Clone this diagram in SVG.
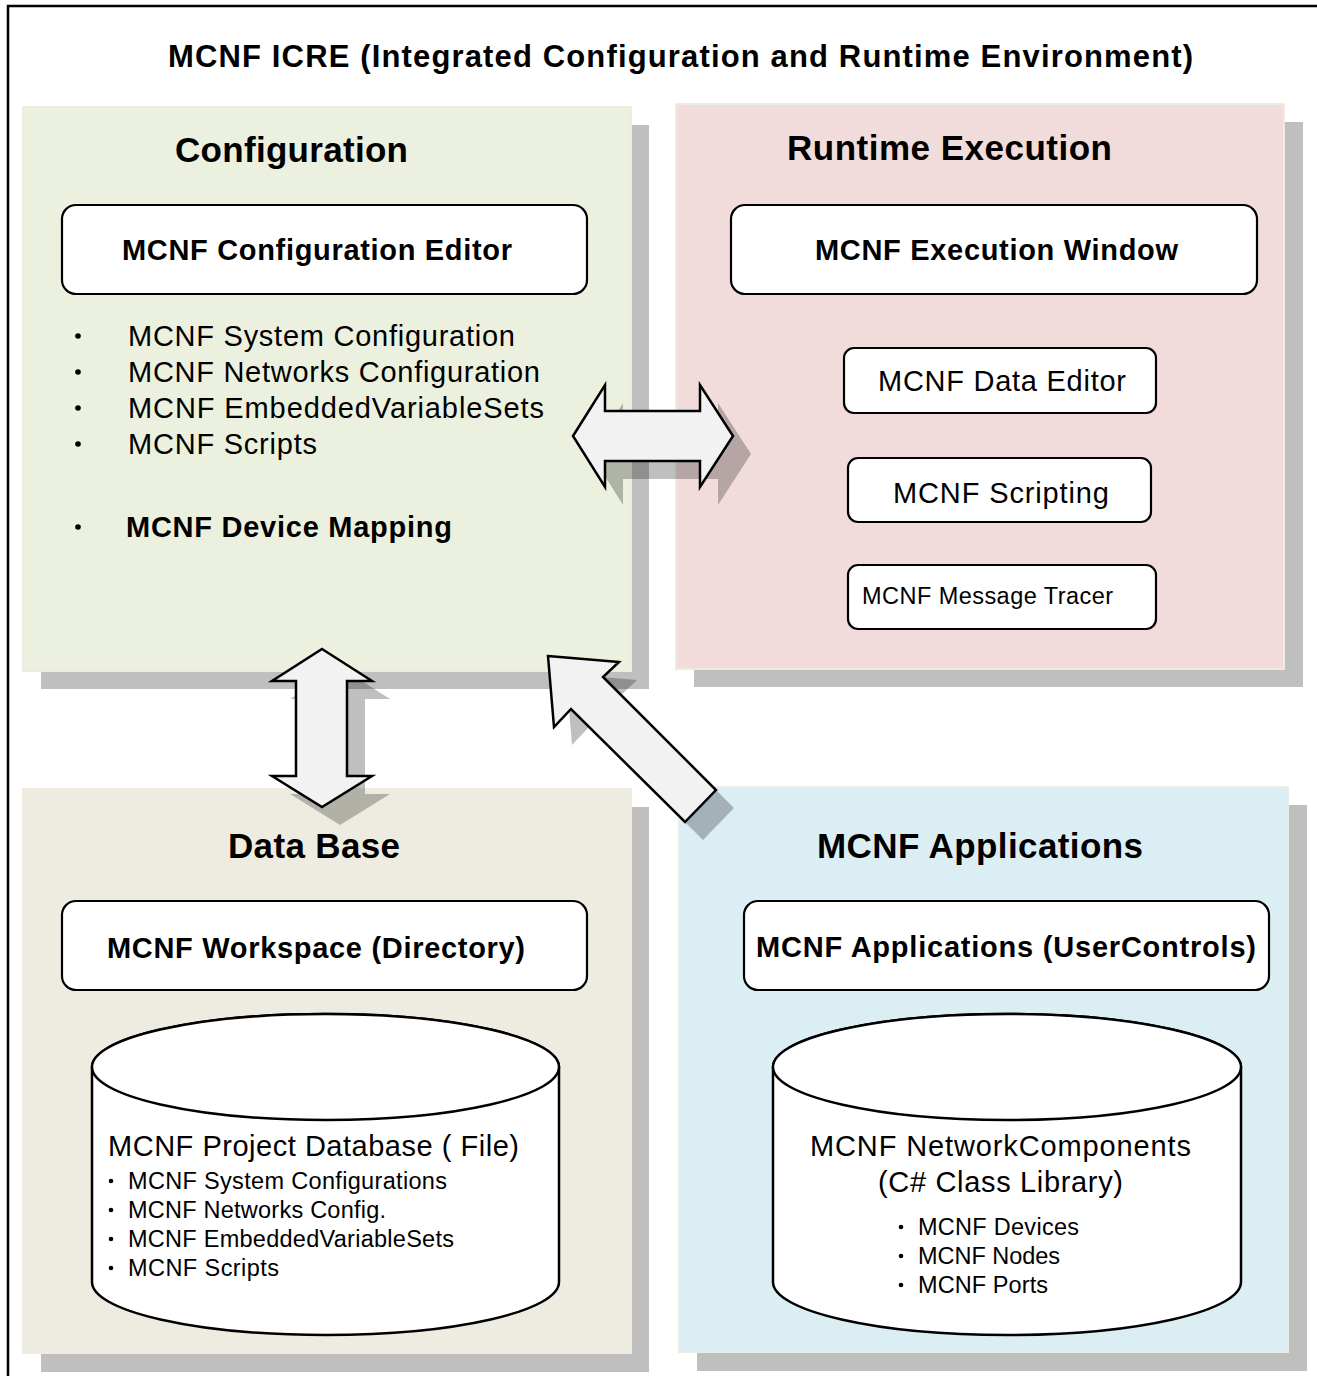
<svg xmlns="http://www.w3.org/2000/svg" width="1317" height="1376" viewBox="0 0 1317 1376">
  <style>
    text { font-family: "Liberation Sans", Arial, sans-serif; fill: #000; }
    .title { font-size: 31px; font-weight: bold; }
    .head { font-size: 35px; font-weight: bold; }
    .blab { font-size: 29px; font-weight: bold; }
    .item { font-size: 29px; }
    .small { font-size: 23.5px; }
    .shadow { fill: #BFBFBF; }
    .panel { stroke: #EEECE1; stroke-width: 2; }
    .box { fill: #FFFFFF; stroke: #000; stroke-width: 2.2; }
    .cyl { fill: #FFFFFF; stroke: #000; stroke-width: 2.5; }
    .arrow { fill: #F2F2F2; stroke: #000; stroke-width: 2.5; stroke-linejoin: miter; }
    .ashadow { fill: #000; fill-opacity: 0.25; }
    .dot { fill: #000; }
  </style>

  <rect x="0" y="0" width="1317" height="1376" fill="#FFFFFF"/>
  <rect x="8" y="6" width="1320" height="1380" fill="none" stroke="#000" stroke-width="2.5"/>

  <text class="title" x="168" y="67" textLength="1025">MCNF ICRE (Integrated Configuration and Runtime Environment)</text>

  <!-- Configuration panel -->
  <g id="configuration">
    <rect class="shadow" x="41" y="125" width="608" height="564"/>
    <rect class="panel" x="23" y="107" width="608" height="564" fill="#EBF1DE"/>
    <text class="head" x="175" y="162" textLength="233">Configuration</text>
    <g id="config-editor">
      <rect class="box" x="62" y="205" width="525" height="89" rx="14"/>
      <text class="blab" x="122" y="260" textLength="390">MCNF Configuration Editor</text>
    </g>
    <circle class="dot" cx="78" cy="336" r="2.8"/>
    <text class="item" x="128" y="346" textLength="387">MCNF System Configuration</text>
    <circle class="dot" cx="78" cy="372" r="2.8"/>
    <text class="item" x="128" y="382" textLength="412">MCNF Networks Configuration</text>
    <circle class="dot" cx="78" cy="408" r="2.8"/>
    <text class="item" x="128" y="418" textLength="416">MCNF EmbeddedVariableSets</text>
    <circle class="dot" cx="78" cy="444" r="2.8"/>
    <text class="item" x="128" y="454" textLength="189">MCNF Scripts</text>
    <circle class="dot" cx="78" cy="527" r="2.8"/>
    <text class="item" x="126" y="537" font-weight="bold" textLength="326">MCNF Device Mapping</text>
  </g>

  <!-- Runtime Execution panel -->
  <g id="runtime">
    <rect class="shadow" x="694" y="122" width="609" height="565"/>
    <rect class="panel" x="676" y="104" width="608" height="565" fill="#F2DCDB"/>
    <text class="head" x="787" y="160" textLength="325">Runtime Execution</text>
    <g id="exec-window">
      <rect class="box" x="731" y="205" width="526" height="89" rx="14"/>
      <text class="blab" x="815" y="260" textLength="363">MCNF Execution Window</text>
    </g>
    <g id="data-editor">
      <rect class="box" x="844" y="348" width="312" height="65" rx="10"/>
      <text class="item" x="878" y="391" textLength="248">MCNF Data Editor</text>
    </g>
    <g id="scripting">
      <rect class="box" x="848" y="458" width="303" height="64" rx="10"/>
      <text class="item" x="893" y="503" textLength="216">MCNF Scripting</text>
    </g>
    <g id="message-tracer">
      <rect class="box" x="848" y="565" width="308" height="64" rx="10"/>
      <text class="small" x="862" y="604" textLength="251">MCNF Message Tracer</text>
    </g>
  </g>

  <!-- Data Base panel -->
  <g id="database">
    <rect class="shadow" x="41" y="807" width="608" height="565"/>
    <rect class="panel" x="23" y="789" width="608" height="564" fill="#EEECE1"/>
    <text class="head" x="228" y="858" textLength="172">Data Base</text>
    <g id="workspace">
      <rect class="box" x="62" y="901" width="525" height="89" rx="14"/>
      <text class="blab" x="107" y="958" textLength="418">MCNF Workspace (Directory)</text>
    </g>
    <g id="project-db">
      <path class="cyl" d="M 92 1067 A 233.5 53 0 0 1 559 1067 L 559 1282 A 233.5 53 0 0 1 92 1282 Z"/>
      <ellipse class="cyl" cx="325.5" cy="1067" rx="233.5" ry="53"/>
      <text class="item" x="108" y="1156" textLength="411">MCNF Project Database ( File)</text>
      <circle class="dot" cx="111" cy="1181" r="2.3"/>
      <text class="small" x="128" y="1189" textLength="319">MCNF System Configurations</text>
      <circle class="dot" cx="111" cy="1210" r="2.3"/>
      <text class="small" x="128" y="1218" textLength="258">MCNF Networks Config.</text>
      <circle class="dot" cx="111" cy="1239" r="2.3"/>
      <text class="small" x="128" y="1247" textLength="326">MCNF EmbeddedVariableSets</text>
      <circle class="dot" cx="111" cy="1268" r="2.3"/>
      <text class="small" x="128" y="1276" textLength="151">MCNF Scripts</text>
    </g>
  </g>

  <!-- MCNF Applications panel -->
  <g id="applications">
    <rect class="shadow" x="697" y="805" width="610" height="566"/>
    <rect class="panel" x="679" y="787" width="609" height="565" fill="#DBEEF4"/>
    <text class="head" x="817" y="858" textLength="326">MCNF Applications</text>
    <g id="usercontrols">
      <rect class="box" x="744" y="901" width="525" height="89" rx="14"/>
      <text class="blab" x="756" y="957" textLength="500">MCNF Applications (UserControls)</text>
    </g>
    <g id="network-components">
      <path class="cyl" d="M 773 1067 A 234 53 0 0 1 1241 1067 L 1241 1282 A 234 53 0 0 1 773 1282 Z"/>
      <ellipse class="cyl" cx="1007" cy="1067" rx="234" ry="53"/>
      <text class="item" x="810" y="1156" textLength="381">MCNF NetworkComponents</text>
      <text class="item" x="878" y="1192" textLength="245">(C# Class Library)</text>
      <circle class="dot" cx="901" cy="1227" r="2.3"/>
      <text class="small" x="918" y="1235" textLength="161">MCNF Devices</text>
      <circle class="dot" cx="901" cy="1256" r="2.3"/>
      <text class="small" x="918" y="1264" textLength="142">MCNF Nodes</text>
      <circle class="dot" cx="901" cy="1285" r="2.3"/>
      <text class="small" x="918" y="1293" textLength="130">MCNF Ports</text>
    </g>
  </g>

  <!-- Connectors -->
  <g id="connectors">
    <g id="config-runtime">
      <polygon class="ashadow" transform="translate(18,18)" points="573,436 605,385 605,411 700,411 700,385 733,436 700,487 700,461 605,461 605,487"/>
      <polygon class="arrow" points="573,436 605,385 605,411 700,411 700,385 733,436 700,487 700,461 605,461 605,487"/>
    </g>
    <g id="config-database">
      <polygon class="ashadow" transform="translate(18,18)" points="322,649 372,681 347,681 347,776 372,776 322,807 272,776 296,776 296,681 272,681"/>
      <polygon class="arrow" points="322,649 372,681 347,681 347,776 372,776 322,807 272,776 296,776 296,681 272,681"/>
    </g>
    <g id="apps-config">
      <polygon class="ashadow" transform="translate(18,18)" points="548,656 619,662 603,677 716,790 685,822 571,709 554,727"/>
      <polygon class="arrow" points="548,656 619,662 603,677 716,790 685,822 571,709 554,727"/>
    </g>
  </g>
</svg>
